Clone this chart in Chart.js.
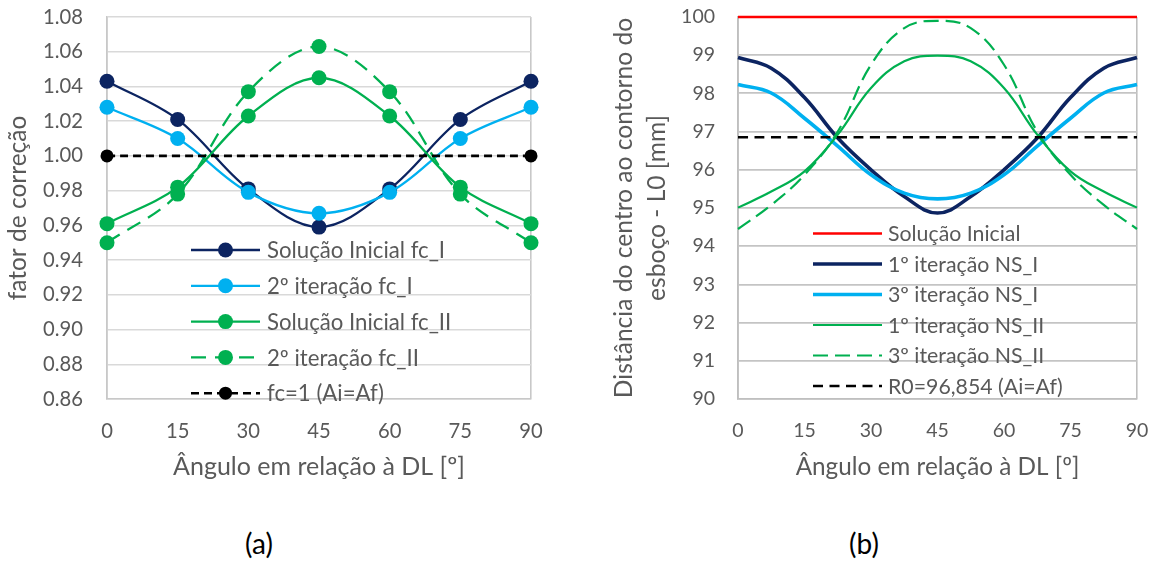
<!DOCTYPE html>
<html>
<head>
<meta charset="utf-8">
<script src="https://cdn.jsdelivr.net/npm/chart.js@4.4.1/dist/chart.umd.min.js"></script>
<style>
  html, body { margin: 0; padding: 0; background: #fff; width: 1156px; height: 563px; overflow: hidden; }
  #boxA { position: absolute; left: 0; top: 0; width: 570px; height: 500px; }
  #boxB { position: absolute; left: 580px; top: 0; width: 576px; height: 500px; }
  .cap { position: absolute; top: 524px; font-family: Lato, "Open Sans", sans-serif; font-size: 28px; color: #000; transform: translateX(-50%); line-height: 38px; }
</style>
</head>
<body>
<div id="boxA"><canvas id="chartA" width="570" height="500"></canvas></div>
<div id="boxB"><canvas id="chartB" width="576" height="500"></canvas></div>
<div class="cap" style="left:259px;">(a)</div>
<div class="cap" style="left:864px;">(b)</div>
<script>
// ---- (a) correction factors, sampled every 15 degrees ----
const anglesA = [0, 15, 30, 45, 60, 75, 90];
const solFcI   = [1.043, 1.021, 0.981, 0.959, 0.981, 1.021, 1.043];
const it2FcI   = [1.028, 1.010, 0.979, 0.967, 0.979, 1.010, 1.028];
const solFcII  = [0.961, 0.982, 1.023, 1.045, 1.023, 0.982, 0.961];
const it2FcII  = [0.950, 0.978, 1.037, 1.063, 1.037, 0.978, 0.950];
const fcOne    = [1.000, 1.000, 1.000, 1.000, 1.000, 1.000, 1.000];
const yTicksA  = [0.86, 0.88, 0.90, 0.92, 0.94, 0.96, 0.98, 1.00, 1.02, 1.04, 1.06, 1.08];

// ---- (b) blank contour distance L0 [mm], sampled every 7.5 degrees ----
const anglesB = [0, 7.5, 15, 22.5, 30, 37.5, 45, 52.5, 60, 67.5, 75, 82.5, 90];
const solIni  = [100, 100, 100, 100, 100, 100, 100, 100, 100, 100, 100, 100, 100];
const it1NSI  = [98.94, 98.66, 97.89, 96.83, 96.00, 95.30, 94.87, 95.30, 96.00, 96.83, 97.89, 98.66, 98.94];
const it3NSI  = [98.23, 98.01, 97.35, 96.62, 95.87, 95.39, 95.24, 95.39, 95.87, 96.62, 97.35, 98.01, 98.23];
const it1NSII = [95.01, 95.43, 95.96, 96.92, 98.14, 98.84, 98.99, 98.84, 98.14, 96.92, 95.96, 95.43, 95.01];
const it3NSII = [94.45, 95.08, 95.87, 97.00, 98.75, 99.71, 99.90, 99.71, 98.75, 97.00, 95.87, 95.08, 94.45];
const r0      = [96.854, 96.854, 96.854, 96.854, 96.854, 96.854, 96.854, 96.854, 96.854, 96.854, 96.854, 96.854, 96.854];
const yTicksB = [90, 91, 92, 93, 94, 95, 96, 97, 98, 99, 100];

const xTicks = [0, 15, 30, 45, 60, 75, 90];
const xTitle = 'Ângulo em relação à DL [º]';
const yTitleA = 'fator de correção';
const yTitleB = ['Distância do centro ao contorno do', 'esboço - L0 [mm]'];

const FONT = 'Lato, "Open Sans", sans-serif';
const TXT = '#595959';

// font size that makes a string span the given width
const mctx = document.createElement('canvas').getContext('2d');
function sizeFor(text, width) {
  mctx.font = '100px ' + FONT;
  return Math.round(1000 * width / mctx.measureText(text).width) / 10;
}
const fsA = { tick: sizeFor('1.08', 40), title: sizeFor(xTitle, 292), ytitle: sizeFor(yTitleA, 185),
              legend: sizeFor('Solução Inicial fc_I', 178) };
const fsB = { tick: sizeFor('100', 34), title: sizeFor(xTitle, 284), ytitle: sizeFor(yTitleB[0], 380),
              legend: sizeFor('R0=96,854 (Ai=Af)', 175) };

const pts = (xs, ys) => xs.map((x, i) => ({ x: x, y: ys[i] }));

// Legend drawn inside the plot area: line sample, optional marker, label
const insideLegend = {
  id: 'insideLegend',
  afterDatasetsDraw(chart, args, o) {
    if (!o || !o.rows) return;
    const ctx = chart.ctx;
    ctx.save();
    chart.data.datasets.forEach((ds, i) => {
      const y = o.top + i * o.gap;
      ctx.strokeStyle = ds.borderColor;
      ctx.lineWidth = ds.borderWidth;
      ctx.setLineDash(ds.borderDash || []);
      ctx.beginPath();
      ctx.moveTo(o.x0, y);
      ctx.lineTo(o.x1, y);
      ctx.stroke();
      ctx.setLineDash([]);
      if (o.markers) {
        ctx.fillStyle = ds.backgroundColor;
        ctx.beginPath();
        ctx.arc((o.x0 + o.x1) / 2, y, ds.legendRadius || 7.5, 0, Math.PI * 2);
        ctx.fill();
      }
      ctx.fillStyle = TXT;
      ctx.font = o.size + 'px ' + FONT;
      ctx.textBaseline = 'middle';
      ctx.textAlign = 'left';
      ctx.fillText(ds.label, o.textX, y + 1);
    });
    ctx.restore();
  }
};

function xScale(height, gridColor, fs) {
  return {
    type: 'linear', min: 0, max: 90,
    afterBuildTicks: s => { s.ticks = xTicks.map(v => ({ value: v })); },
    afterFit: s => { s.height = height; },
    grid: {
      drawTicks: true, tickLength: 20, tickColor: 'rgba(0,0,0,0)',
      color: c => (c.tick && (c.tick.value === 0 || c.tick.value === 90)) ? gridColor : 'rgba(0,0,0,0)',
      lineWidth: 1.6
    },
    border: { display: true, color: gridColor, width: 1.6 },
    ticks: { padding: 0, color: TXT, font: { family: FONT, size: fs.tick }, maxRotation: 0, autoSkip: false,
             callback: v => String(v) },
    title: { display: true, text: xTitle, color: TXT, font: { family: FONT, size: fs.title, lineHeight: 1.2 },
             padding: { top: 0, bottom: 33 - fs.title * 0.6 } }
  };
}

// ---------- chart (a) ----------
const dsA = (label, data, color, extra) => Object.assign({
  label: label, data: pts(anglesA, data), borderColor: color, backgroundColor: color,
  borderWidth: 2.3, pointRadius: 7.5, pointHoverRadius: 7.5, pointBorderWidth: 0,
  tension: 0.35, clip: false, fill: false
}, extra || {});

new Chart(document.getElementById('chartA'), {
  type: 'line',
  data: {
    datasets: [
      dsA('Solução Inicial fc_I', solFcI, '#0C2461', { order: 5 }),
      dsA('2º iteração fc_I', it2FcI, '#00B0F0', { order: 4 }),
      dsA('Solução Inicial fc_II', solFcII, '#00B050', { order: 3 }),
      dsA('2º iteração fc_II', it2FcII, '#00B050', { order: 2, borderDash: [15, 9] }),
      dsA('fc=1 (Ai=Af)', fcOne, '#000000', { order: 1, borderDash: [8, 5], borderWidth: 2.6,
          pointRadius: [6.5, 0, 0, 0, 0, 0, 6.5], legendRadius: 6.5 })
    ]
  },
  options: {
    responsive: false, animation: false, devicePixelRatio: 1,
    layout: { padding: { top: 17, right: 39, left: 0, bottom: 0 } },
    plugins: {
      legend: { display: false }, tooltip: { enabled: false },
      insideLegend: { rows: true, markers: true, x0: 191, x1: 260, textX: 267, top: 250, gap: 35.8, size: fsA.legend }
    },
    scales: {
      x: xScale(101, '#c8c8c8', fsA),
      y: {
        type: 'linear', min: 0.86, max: 1.08,
        afterBuildTicks: s => { s.ticks = yTicksA.map(v => ({ value: v })); },
        afterFit: s => { s.width = 107; },
        grid: { drawTicks: true, tickLength: 24, tickColor: 'rgba(0,0,0,0)', color: '#d9d9d9', lineWidth: 1.5 },
        border: { display: true, color: '#c8c8c8', width: 1.6 },
        ticks: { padding: 0, color: TXT, font: { family: FONT, size: fsA.tick }, callback: v => v.toFixed(2) },
        title: { display: true, text: yTitleA, color: TXT,
                 font: { family: FONT, size: fsA.ytitle, lineHeight: 1.2 }, padding: { top: 18 - fsA.ytitle * 0.6, bottom: 0 } }
      }
    }
  },
  plugins: [insideLegend]
});

// ---------- chart (b) ----------
const dsB = (label, data, color, width, extra) => Object.assign({
  label: label, data: pts(anglesB, data), borderColor: color, backgroundColor: color,
  borderWidth: width, pointRadius: 0, pointHoverRadius: 0, tension: 0.4, clip: false, fill: false
}, extra || {});

new Chart(document.getElementById('chartB'), {
  type: 'line',
  data: {
    datasets: [
      dsB('Solução Inicial', solIni, '#FF0000', 2.6, { order: 6 }),
      dsB('1º iteração NS_I', it1NSI, '#0C2461', 3.6, { order: 5 }),
      dsB('3º iteração NS_I', it3NSI, '#00B0F0', 3.6, { order: 4 }),
      dsB('1º iteração NS_II', it1NSII, '#00B050', 2.2, { order: 3 }),
      dsB('3º iteração NS_II', it3NSII, '#00B050', 2.2, { order: 2, borderDash: [15, 7] }),
      dsB('R0=96,854 (Ai=Af)', r0, '#000000', 2.6, { order: 1, borderDash: [10, 6.5] })
    ]
  },
  options: {
    responsive: false, animation: false, devicePixelRatio: 1,
    layout: { padding: { top: 17, right: 19, left: 0, bottom: 0 } },
    plugins: {
      legend: { display: false }, tooltip: { enabled: false },
      insideLegend: { rows: true, markers: false, x0: 233, x1: 302, textX: 308, top: 233.5, gap: 30.5, size: fsB.legend }
    },
    scales: {
      x: xScale(101, '#bfbfbf', fsB),
      y: {
        type: 'linear', min: 90, max: 100,
        afterBuildTicks: s => { s.ticks = yTicksB.map(v => ({ value: v })); },
        afterFit: s => { s.width = 158; },
        grid: { drawTicks: true, tickLength: 23, tickColor: 'rgba(0,0,0,0)', color: '#c4c4c4', lineWidth: 1.8 },
        border: { display: true, color: '#bfbfbf', width: 1.8 },
        ticks: { padding: 0, color: TXT, font: { family: FONT, size: fsB.tick }, callback: v => String(v) },
        title: { display: true, text: yTitleB, color: TXT,
                 font: { family: FONT, size: fsB.ytitle, lineHeight: 33 / fsB.ytitle }, padding: { top: 27.5, bottom: 0 } }
      }
    }
  },
  plugins: [insideLegend]
});
</script>
</body>
</html>
